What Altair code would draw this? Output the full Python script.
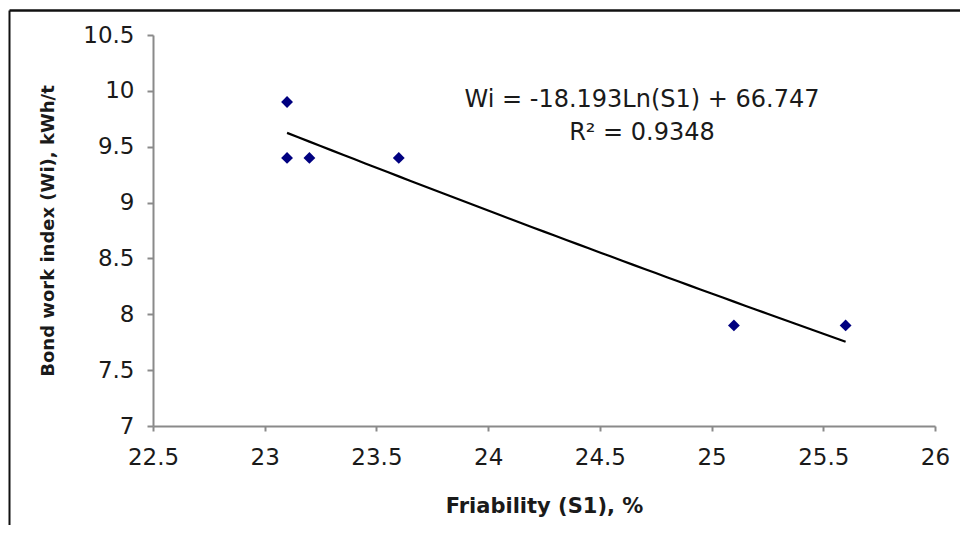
import altair as alt
import pandas as pd

# Data
friability = [23.1, 23.1, 23.2, 23.6, 25.1, 25.6]
work_index = [9.9, 9.4, 9.4, 9.4, 7.9, 7.9]

# Logarithmic trendline as printed on the chart
trend_slope = -18.193
trend_intercept = 66.747
trend_start = 23.1
trend_stop = 25.65
eq_text = "Wi = -18.193Ln(S1) + 66.747"
r2_text = "R\u00b2 = 0.9348"

x_ticks = [22.5, 23, 23.5, 24, 24.5, 25, 25.5, 26]
y_ticks = [7, 7.5, 8, 8.5, 9, 9.5, 10, 10.5]

df = pd.DataFrame({"S1": friability, "Wi": work_index})
dummy = pd.DataFrame({"a": [0]})

FONT = "DejaVu Sans"
TXT = "#1a1a1a"

x_scale = alt.Scale(domain=[22.5, 26], nice=False, zero=False)
y_scale = alt.Scale(domain=[7, 10.5], nice=False, zero=False)

x_axis = alt.Axis(
    title="Friability (S1), %", values=x_ticks, grid=False, format="~g",
    labelFontSize=23, labelFont=FONT, labelColor=TXT, labelPadding=15,
    titleFontSize=21, titleFont=FONT, titleFontWeight="bold", titleColor=TXT,
    titlePadding=26, domainColor="#8a8a8a", domainWidth=2, tickColor="#8a8a8a",
    tickWidth=2, tickSize=5, labelFlush=False,
)
y_axis = alt.Axis(
    title="Bond work index (Wi), kWh/t", values=y_ticks, grid=False, format="~g",
    labelFontSize=23, labelFont=FONT, labelColor=TXT, labelPadding=13,
    titleFontSize=18, titleFont=FONT, titleFontWeight="bold", titleColor=TXT,
    titlePadding=25, domainColor="#8a8a8a", domainWidth=2, tickColor="#8a8a8a",
    tickWidth=2, tickSize=6, labelFlush=False,
)

points = alt.Chart(df).mark_point(
    shape="diamond", filled=True, color="#000080", size=140, opacity=1
).encode(
    x=alt.X("S1:Q", scale=x_scale, axis=x_axis),
    y=alt.Y("Wi:Q", scale=y_scale, axis=y_axis),
)

trend = alt.Chart(
    alt.sequence(trend_start, trend_stop, 0.05, as_="S1")
).transform_calculate(
    Wi=f"{trend_slope}*log(datum.S1)+{trend_intercept}"
).mark_line(color="black", strokeWidth=2.2).encode(
    x=alt.X("S1:Q", scale=x_scale),
    y=alt.Y("Wi:Q", scale=y_scale),
)

eq = alt.Chart(dummy).mark_text(
    font=FONT, fontSize=24, color=TXT, align="center", baseline="middle"
).encode(x=alt.value(489), y=alt.value(65), text=alt.value(eq_text))

r2 = alt.Chart(dummy).mark_text(
    font=FONT, fontSize=24, color=TXT, align="center", baseline="middle"
).encode(x=alt.value(489), y=alt.value(98), text=alt.value(r2_text))

frame_top = alt.Chart(dummy).mark_rule(color="#111111", strokeWidth=2.5).encode(
    x=alt.value(-143.5), x2=alt.value(820), y=alt.value(-24.5)
)
frame_left = alt.Chart(dummy).mark_rule(color="#111111", strokeWidth=2).encode(
    x=alt.value(-143.5), y=alt.value(-24.5), y2=alt.value(495)
)

chart = alt.layer(frame_top, frame_left, trend, points, eq, r2).properties(
    width=782, height=391,
    autosize=alt.AutoSizeParams(type="none"),
    padding={"left": 145, "top": 27, "right": 25, "bottom": 99},
    background="white",
).configure_view(stroke=None)

chart.save("out.html", embed_options={"renderer": "svg", "actions": False})
